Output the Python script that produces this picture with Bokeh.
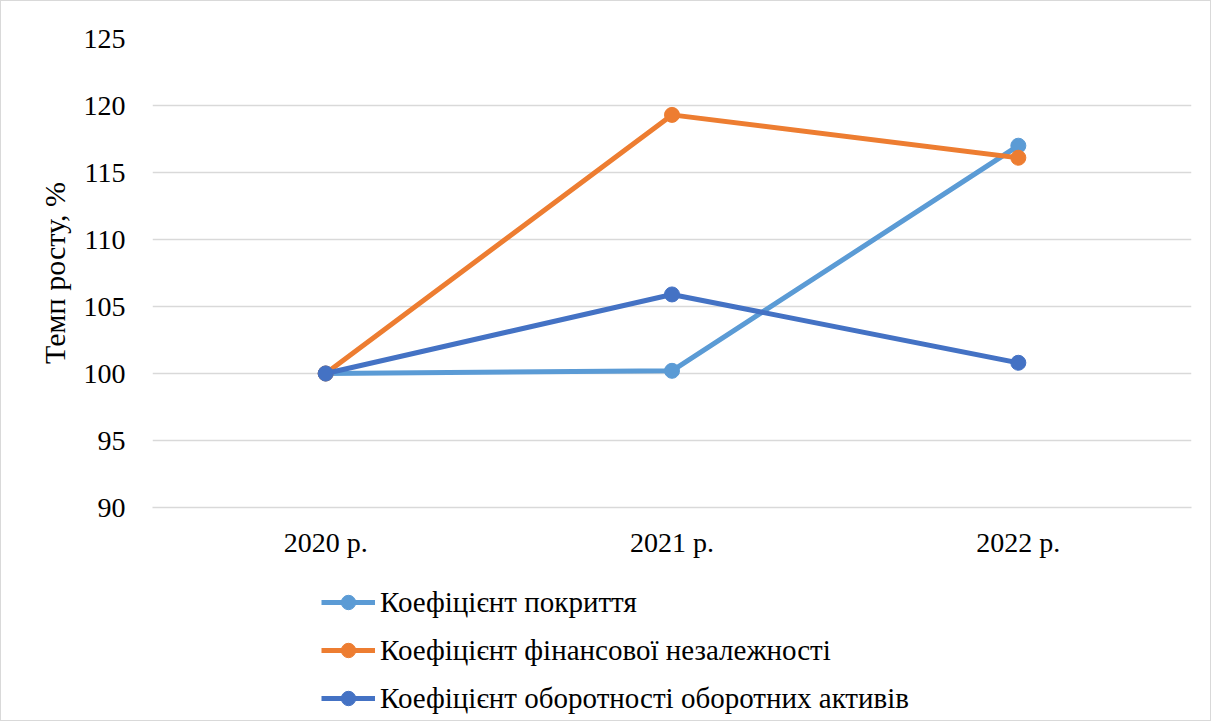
from bokeh.plotting import figure
from bokeh.layouts import column
from bokeh.models import FactorRange, Range1d, FixedTicker, Legend, LegendItem
from bokeh.embed import file_html
from bokeh.resources import INLINE

years = ["2020 р.", "2021 р.", "2022 р."]
coverage = [100.0, 100.2, 117.0]
fin_independence = [100.0, 119.3, 116.1]
turnover = [100.0, 105.9, 100.8]

names = ["Коефіцієнт покриття",
         "Коефіцієнт фінансової незалежності",
         "Коефіцієнт оборотності оборотних активів"]
colors = ["#5B9BD5", "#ED7D31", "#4472C4"]
series = [coverage, fin_independence, turnover]

FONT = "Liberation Serif"
LW = 5
MS = 15

p = figure(width=1209, height=566, output_backend="svg", toolbar_location=None,
           x_range=FactorRange(*years, range_padding=0), y_range=Range1d(90, 125))
p.min_border_left = 151
p.min_border_right = 19
p.min_border_top = 37
p.min_border_bottom = 60
p.outline_line_color = None
p.background_fill_color = "white"
p.border_fill_color = "white"

p.yaxis.ticker = FixedTicker(ticks=[90, 95, 100, 105, 110, 115, 120, 125])
p.ygrid.grid_line_color = "#D9D9D9"
p.ygrid.grid_line_width = 1.5
p.xgrid.grid_line_color = None

for ax in (p.xaxis, p.yaxis):
    ax.major_tick_line_color = None
    ax.minor_tick_line_color = None
    ax.major_label_text_font = FONT
    ax.major_label_text_font_size = "28px"
    ax.major_label_text_color = "#000000"
p.yaxis.axis_line_color = None
p.xaxis.axis_line_color = "#D9D9D9"
p.xaxis.axis_line_width = 1.5
p.yaxis.major_label_standoff = 21
p.xaxis.major_label_standoff = 13
p.yaxis.axis_label = "Темп росту, %"
p.yaxis.axis_label_text_font = FONT
p.yaxis.axis_label_text_font_size = "30px"
p.yaxis.axis_label_text_font_style = "normal"
p.yaxis.axis_label_text_color = "#000000"
p.yaxis.axis_label_standoff = 10

for name, col, vals in zip(names, colors, series):
    p.line(years, vals, line_color=col, line_width=LW)
    p.scatter(years, vals, marker="circle", size=MS, fill_color=col, line_color=col)

# legend panel below the chart (series drawn out of its visible range, only the legend shows)
lg = figure(width=1209, height=153, output_backend="svg", toolbar_location=None,
            x_range=FactorRange(*years, range_padding=0), y_range=Range1d(0, 1),
            x_axis_location=None, y_axis_location=None)
lg.min_border_left = 151
lg.min_border_right = 19
lg.min_border_top = 0
lg.min_border_bottom = 0
lg.outline_line_color = None
lg.grid.grid_line_color = None
lg.background_fill_color = "white"
lg.border_fill_color = "white"

items = []
for name, col, vals in zip(names, colors, series):
    r1 = lg.line(years, vals, line_color=col, line_width=LW)
    r2 = lg.scatter(years, vals, marker="circle", size=MS, fill_color=col, line_color=col)
    items.append(LegendItem(label=name, renderers=[r1, r2]))

legend = Legend(items=items, location=(169, 4), orientation="vertical",
                glyph_width=54, glyph_height=36, spacing=12, padding=0, margin=0,
                label_standoff=5, label_text_font=FONT, label_text_font_size="29px",
                label_text_color="#000000", border_line_color=None,
                background_fill_alpha=0)
lg.add_layout(legend, "center")

layout = column(p, lg, spacing=0)
layout.styles = {"border": "1px solid #D9D9D9"}

open("out.html", "w").write(file_html(layout, INLINE))
